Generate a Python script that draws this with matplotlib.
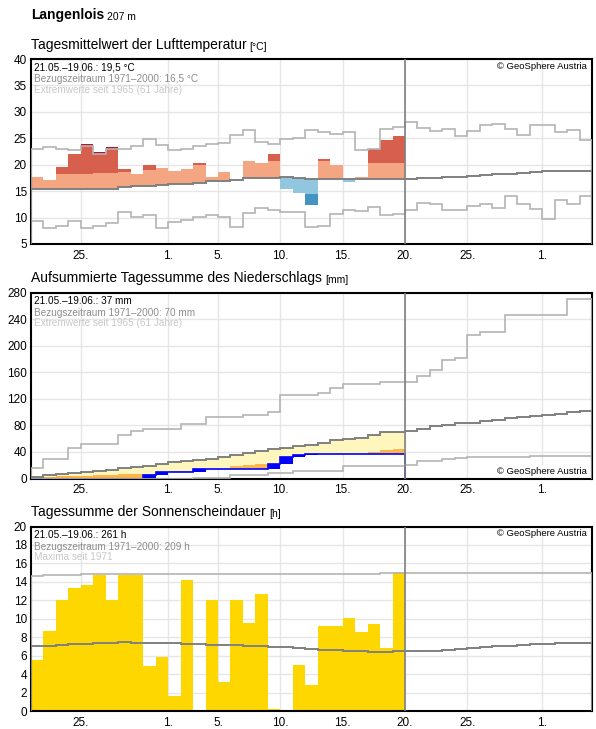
import numpy as np
import matplotlib
matplotlib.use('Agg')
import matplotlib.pyplot as plt

plt.rcParams['font.family'] = ['Liberation Sans', 'DejaVu Sans']

# x axis: days counted from 21 May (0) to 5 July (45)
n_days = 45
n_obs = 30
tick_days = [4, 11, 15, 20, 25, 30, 35, 41]
tick_labels = ['25.', '1.', '5.', '10.', '15.', '20.', '25.', '1.']

# temperature (daily mean, deg C)
temp_obs = [17.6, 17.2, 19.6, 22.1, 23.9, 22.4, 23.3, 19.25, 18.3, 20.0,
            19.4, 18.9, 19.1, 20.4, 17.6, 18.7, 17.2, 20.75, 20.4, 22.1,
            15.4, 14.7, 12.4, 21.1, 20.0, 16.8, 17.6, 23.0, 24.7, 25.5]
temp_warm_thr = [18.3, 18.3, 18.3, 18.3, 18.3, 18.4, 18.5, 18.7, 18.9, 19.0,
                 19.5, 19.6, 19.7, 20.0, 20.1, 20.2, 20.4, 20.8, 20.8, 20.75,
                 20.8, 20.7, 20.5, 20.75, 20.5, 20.4, 20.4, 20.3, 20.3, 20.3]
temp_cold_thr = [12.4, 12.4, 12.4, 12.4, 12.4, 12.5, 12.5, 12.7, 12.9, 12.9,
                 13.1, 13.3, 13.4, 13.6, 14.0, 14.0, 14.2, 14.5, 14.5, 14.5,
                 14.6, 14.5, 14.4, 14.3, 14.3, 14.25, 14.25, 14.25, 14.25, 14.25]
temp_mean = [15.4, 15.4, 15.4, 15.4, 15.4, 15.5, 15.5, 15.7, 15.9, 15.9,
             16.1, 16.3, 16.4, 16.6, 17.0, 17.0, 17.2, 17.5, 17.5, 17.5,
             17.6, 17.5, 17.3, 17.3, 17.3, 17.25, 17.25, 17.25, 17.25, 17.25,
             17.3, 17.4, 17.5, 17.6, 17.7, 17.8, 18.0, 18.2, 18.3, 18.4,
             18.6, 18.75, 18.9, 18.9, 18.9]
temp_max = [22.9, 23.4, 22.9, 22.7, 23.5, 22.1, 22.9, 22.9, 23.6, 24.8,
            23.7, 22.7, 22.9, 23.5, 23.9, 24.2, 25.6, 26.5, 24.25, 23.9,
            24.8, 25.0, 26.5, 26.1, 25.9, 26.25, 22.8, 22.9, 26.75, 27.2,
            28.1, 26.9, 26.4, 26.8, 25.5, 26.4, 27.6, 27.7, 26.75, 25.7,
            27.6, 27.6, 26.2, 26.6, 24.75]
temp_min = [9.4, 8.0, 8.4, 9.4, 8.1, 8.5, 8.9, 11.1, 10.2, 10.4,
            8.0, 9.1, 9.5, 10.1, 10.4, 10.1, 8.2, 10.9, 11.9, 11.4,
            11.0, 11.0, 8.3, 8.5, 10.7, 11.4, 11.3, 12.0, 10.4, 10.75,
            11.5, 12.7, 12.5, 11.5, 11.5, 12.2, 12.6, 11.9, 14.1, 12.5,
            11.7, 9.7, 13.4, 12.6, 14.0]

# precipitation (mm)
precip_daily = [0, 0, 0, 0, 0, 0, 0, 0, 0, 5.0,
                4.5, 0, 0, 5.0, 0, 0, 0, 0, 0, 7.0,
                10.5, 3.0, 2.0, 0, 0, 0, 0, 0, 0, 0]
precip_dry_thr = [2.5, 2.5, 3.5, 3.5, 4.5, 5.5, 5.5, 6.5, 6.5, 7.5,
                  10.5, 11.0, 11.5, 13.0, 14.0, 14.5, 19.0, 21.0, 21.5, 21.5,
                  24.0, 26.0, 27.0, 29.0, 31.0, 33.0, 35.0, 40.0, 43.5, 44.0]
precip_mean = [3, 6, 7.5, 9, 10, 12, 13.5, 16, 17.5, 19.5,
               22.5, 24.5, 26, 28.5, 30, 32.5, 35, 38, 41.5, 44,
               46, 49, 50.5, 53.5, 57.5, 59, 60.5, 66, 69.5, 70.5,
               71.5, 75, 78.5, 80.5, 83.5, 83.5, 86, 88.5, 90.5, 92,
               93.5, 95.5, 97.5, 99.5, 101.5]
precip_max = [16, 30, 30, 46, 52, 52, 52, 65.5, 72, 75,
              75, 75, 82, 82, 93, 93, 93, 95.5, 95.5, 100.5,
              126, 126, 126, 128.5, 136, 142, 142, 142, 145.5, 145.5,
              145.5, 154, 163, 178, 181, 216, 220, 220, 245.5, 245.5,
              245.5, 245.5, 245.5, 269.5, 269.5]
precip_min = [0, 0, 0, 0, 0, 0, 0, 0, 0, 0,
              0, 0, 0, 1, 1, 1.5, 5, 5.5, 5.5, 8.5,
              8.5, 12, 12, 12, 12, 19, 19, 19, 19, 19,
              21, 26, 26, 29.5, 31, 33, 33, 33, 33, 33,
              34, 34, 34, 34, 34]

# sunshine (h)
sun_obs = [5.55, 8.7, 12.0, 13.35, 13.7, 14.75, 12.0, 14.75, 14.75, 4.9,
           5.8, 1.6, 14.2, 0.1, 12.0, 3.15, 12.0, 9.55, 12.7, 0.2,
           0.0, 5.0, 2.85, 9.2, 9.2, 10.05, 8.55, 9.4, 6.85, 15.1]
sun_mean = [7.05, 7.05, 7.12, 7.23, 7.23, 7.34, 7.34, 7.45, 7.34, 7.34,
            7.34, 7.34, 7.23, 7.23, 7.12, 7.12, 7.12, 7.05, 7.05, 6.9,
            6.9, 6.8, 6.7, 6.6, 6.6, 6.5, 6.5, 6.4, 6.4, 6.45,
            6.45, 6.45, 6.5, 6.6, 6.7, 6.8, 6.9, 7.0, 7.1, 7.2,
            7.25, 7.3, 7.35, 7.4, 7.4]
sun_max = [14.6, 14.7, 14.7, 14.7, 14.8, 14.8, 14.8, 14.8, 14.8, 14.8,
           14.8, 14.8, 14.8, 14.8, 14.8, 14.8, 14.8, 14.8, 14.8, 14.8,
           14.8, 14.8, 14.8, 14.8, 14.9, 14.9, 14.9, 14.9, 15.0, 15.0,
           15.0, 15.0, 15.0, 15.0, 15.0, 15.0, 15.0, 15.0, 15.0, 15.0,
           15.0, 15.0, 15.0, 15.0, 15.0]

MEAN_C = '#808080'
EXT_C = '#b4b4b4'
GRID_C = '#e6e6e6'

W, H = 596, 729
fig = plt.figure(figsize=(W / 100, H / 100), dpi=100)


def px_axes(top, bottom):
    return fig.add_axes([31 / W, 1 - bottom / H, 561 / W, (bottom - top) / H])


def style_axes(ax, ymin, ymax, ystep):
    ax.set_xlim(0, n_days)
    ax.set_ylim(ymin, ymax)
    ax.set_yticks(np.arange(ymin, ymax + 0.1, ystep))
    ax.set_xticks(tick_days)
    ax.set_xticklabels(tick_labels)
    ax.tick_params(length=0, labelsize=8.5, pad=3)
    ax.tick_params(axis='x', pad=4)
    ax.grid(True, color=GRID_C, lw=1)
    ax.set_axisbelow(True)
    for s in ax.spines.values():
        s.set_linewidth(1.5)
        s.set_color('black')
    ax.axvline(n_obs, color=MEAN_C, lw=1.2, zorder=5)


def panel_title(ax, main, unit):
    t = ax.annotate(main, xy=(0, 1), xycoords='axes fraction', xytext=(0, 10.5),
                    textcoords='offset pixels', fontsize=10, va='baseline')
    fig.canvas.draw()
    bb = t.get_window_extent(fig.canvas.get_renderer())
    ax.annotate(unit, xy=(bb.x1 + 3, bb.y0), xycoords='figure pixels',
                xytext=(0, 0), textcoords='offset pixels', fontsize=7.5, va='bottom')


def info_text(ax, lines):
    colors = ['black', '#8c8c8c', '#c8c8c8']
    for i, (txt, c) in enumerate(zip(lines, colors)):
        ax.annotate(txt, xy=(0, 1), xycoords='axes fraction', xytext=(3, -12 - 11 * i),
                    textcoords='offset pixels', fontsize=7.2, color=c, va='baseline')


def copyright(ax, top=True):
    if top:
        ax.annotate('© GeoSphere Austria', xy=(1, 1), xycoords='axes fraction',
                    xytext=(-5, -10), textcoords='offset pixels', fontsize=6.8,
                    ha='right', va='baseline')
    else:
        ax.annotate('© GeoSphere Austria', xy=(1, 0), xycoords='axes fraction',
                    xytext=(-5, 4), textcoords='offset pixels', fontsize=6.8,
                    ha='right', va='baseline', zorder=2.4,
                    bbox=dict(facecolor='white', edgecolor='none', pad=1.5))


edges = np.arange(n_days + 1)
x_obs = np.arange(n_obs)

# station title
t = fig.text(31 / W, 1 - 19.5 / H, 'Langenlois', fontsize=10, fontweight='bold', va='baseline')
fig.canvas.draw()
bb = t.get_window_extent(fig.canvas.get_renderer())
fig.text((bb.x1 + 3) / W, 1 - 19.5 / H, '207 m', fontsize=7.5, va='baseline')

# ---------------- temperature ----------------
ax1 = px_axes(59, 244)
style_axes(ax1, 5, 40, 5)
obs = np.array(temp_obs)
m = np.array(temp_mean[:n_obs])
tw = np.array(temp_warm_thr)
tc = np.array(temp_cold_thr)
tmax = np.array(temp_max[:n_obs])
tmin = np.array(temp_min[:n_obs])
warm = obs >= m
cold = ~warm

segs = [
    # (bottom, top, color)
    (m, np.where(warm, np.minimum(obs, tw), m), '#f4a582'),
    (tw, np.where(warm & (obs > tw), np.minimum(obs, tmax), tw), '#d6604d'),
    (tmax, np.where(warm & (obs > tmax), obs, tmax), '#b2182b'),
    (np.where(cold, np.maximum(obs, tc), m), m, '#92c5de'),
    (np.where(cold & (obs < tc), np.maximum(obs, tmin), tc), tc, '#4393c3'),
    (np.where(cold & (obs < tmin), obs, tmin), tmin, '#2166ac'),
]
for lo, hi, c in segs:
    ax1.bar(x_obs, hi - lo, bottom=lo, width=1, align='edge', color=c, lw=0, zorder=2)
ax1.stairs(temp_max, edges, color=EXT_C, lw=1.2, zorder=3)
ax1.stairs(temp_min, edges, color=EXT_C, lw=1.2, zorder=3)
ax1.stairs(temp_mean, edges, color=MEAN_C, lw=1.4, zorder=4)
panel_title(ax1, 'Tagesmittelwert der Lufttemperatur', '[°C]')
info_text(ax1, ['21.05.–19.06.: 19,5 °C', 'Bezugszeitraum 1971–2000: 16,5 °C',
                'Extremwerte seit 1965 (61 Jahre)'])
copyright(ax1)

# ---------------- precipitation ----------------
ax2 = px_axes(292.5, 478.5)
style_axes(ax2, 0, 280, 40)
daily = np.array(precip_daily)
cum = np.cumsum(daily)
prev = cum - daily
pm = np.array(precip_mean[:n_obs])
thr = np.array(precip_dry_thr)
ax2.bar(x_obs, np.clip(pm - cum, 0, None), bottom=cum, width=1, align='edge',
        color='#fff6bd', lw=0, zorder=2)
ax2.bar(x_obs, np.clip(thr - cum, 0, None), bottom=cum, width=1, align='edge',
        color='#fdb64e', lw=0, zorder=2)
ax2.bar(x_obs, daily, bottom=prev, width=1, align='edge', color='#0000ff', lw=0, zorder=2)
ax2.stairs(cum, edges[:n_obs + 1], color='#0000ff', lw=1.2, zorder=3)
ax2.stairs(precip_max, edges, color=EXT_C, lw=1.2, zorder=3)
ax2.stairs(precip_min, edges, color=EXT_C, lw=1.2, zorder=3)
ax2.stairs(precip_mean, edges, color=MEAN_C, lw=1.4, zorder=4)
panel_title(ax2, 'Aufsummierte Tagessumme des Niederschlags', '[mm]')
info_text(ax2, ['21.05.–19.06.: 37 mm', 'Bezugszeitraum 1971–2000: 70 mm',
                'Extremwerte seit 1965 (61 Jahre)'])
copyright(ax2, top=False)

# ---------------- sunshine ----------------
ax3 = px_axes(526.5, 711)
style_axes(ax3, 0, 20, 2)
ax3.bar(x_obs, sun_obs, width=1, align='edge', color='#fed600', lw=0, zorder=2)
ax3.stairs(sun_max, edges, color=EXT_C, lw=1.2, zorder=3)
ax3.stairs(sun_mean, edges, color=MEAN_C, lw=1.4, zorder=4)
panel_title(ax3, 'Tagessumme der Sonnenscheindauer', '[h]')
info_text(ax3, ['21.05.–19.06.: 261 h', 'Bezugszeitraum 1971–2000: 209 h',
                'Maxima seit 1971'])
copyright(ax3)

fig.savefig('out.png', dpi=100)
